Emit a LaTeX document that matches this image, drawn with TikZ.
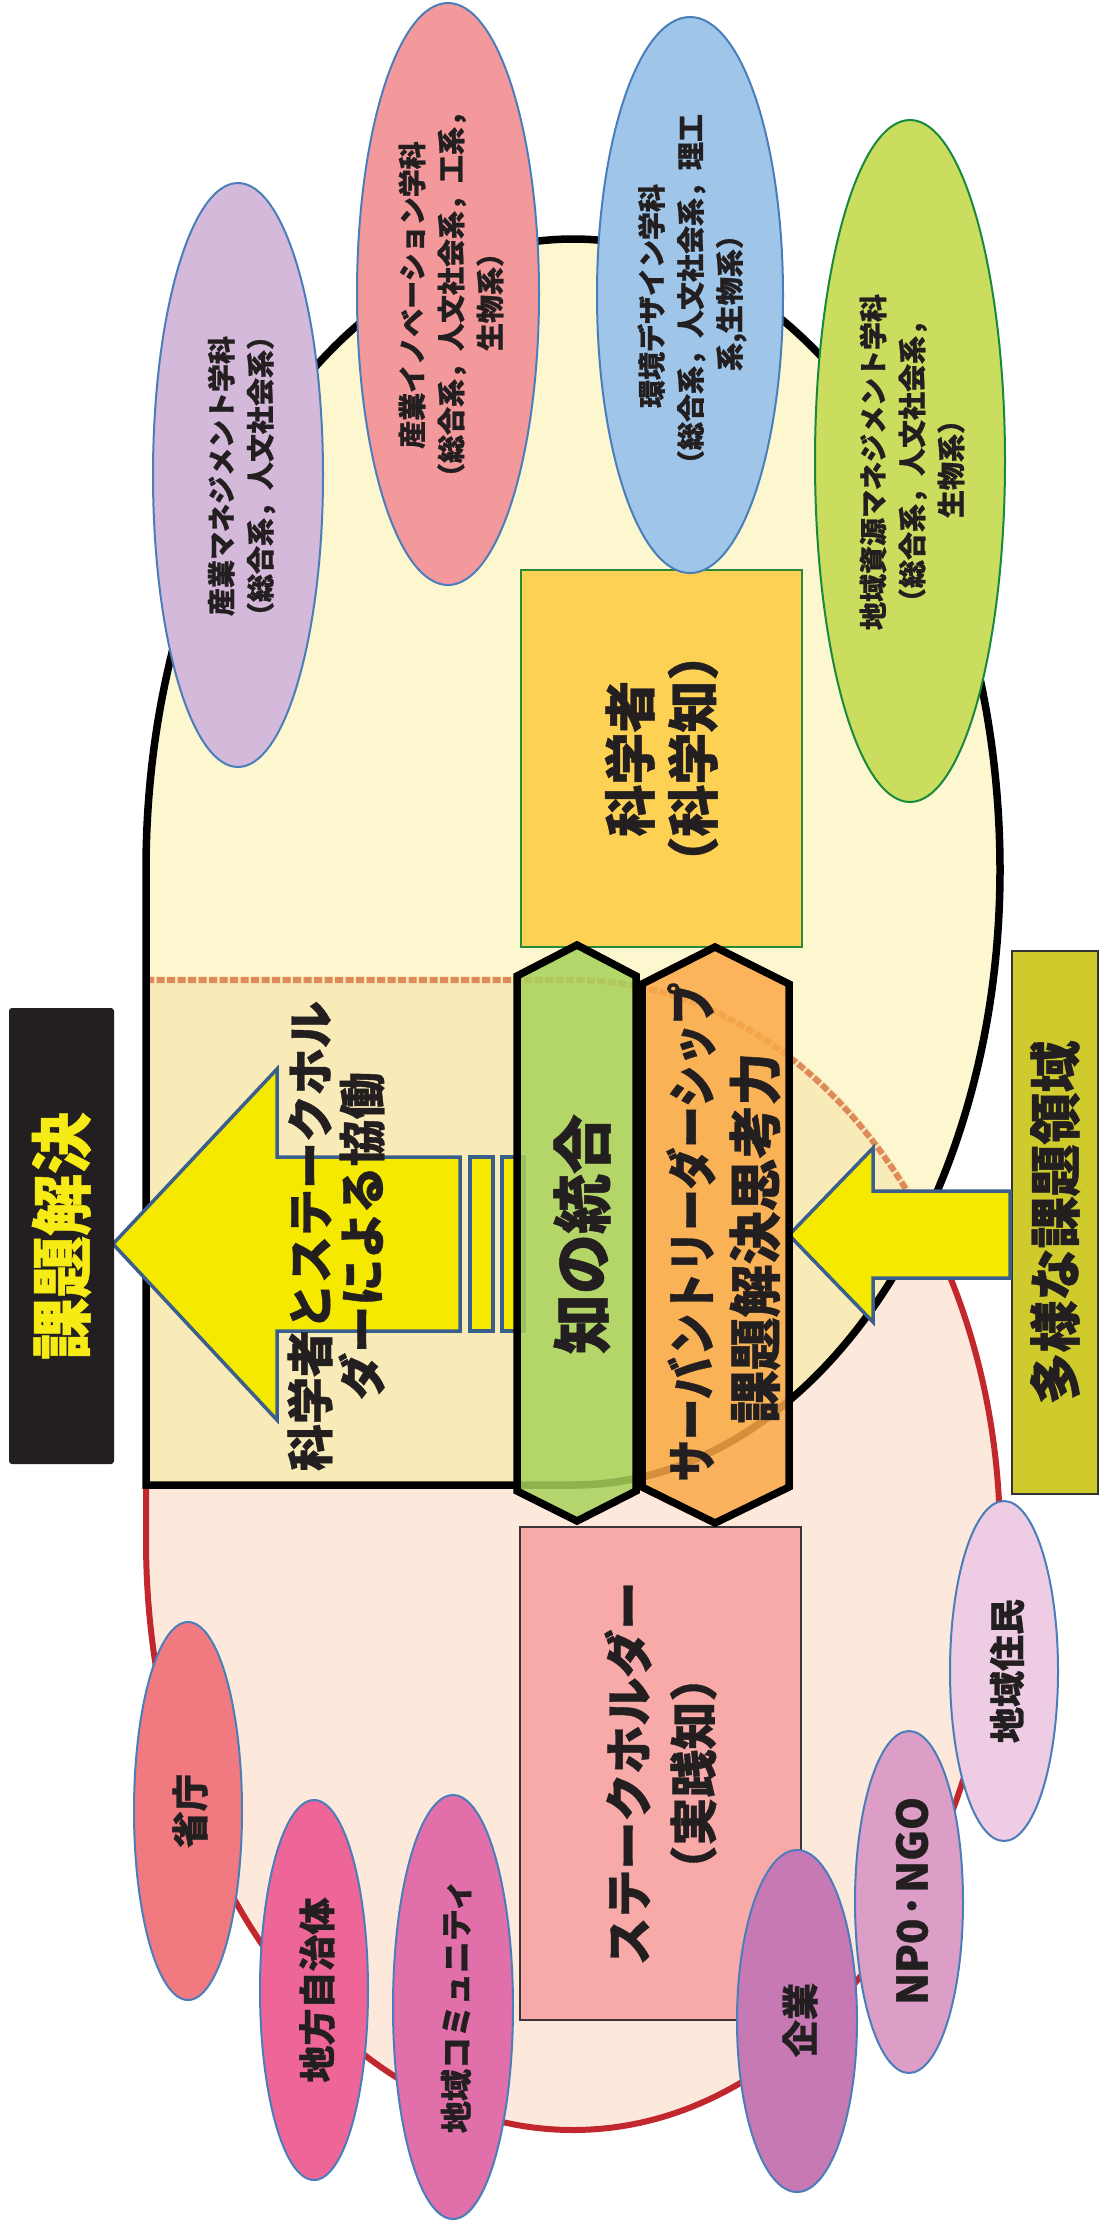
\documentclass[tikz,border=0pt]{standalone}
\usepackage{fontspec}
\setmainfont{Noto Sans CJK JP}
\newfontfamily\jpheavy{Noto Sans CJK JP}[FakeBold=0.8]
\usepackage{graphicx}
\usetikzlibrary{shapes.geometric}
\definecolor{txtc}{HTML}{231F20}
\definecolor{pinkbg}{HTML}{FDE9DB}
\definecolor{yellowbg}{HTML}{FCF7CE}
\definecolor{overlapbg}{HTML}{F9EBB8}
\definecolor{redline}{HTML}{C1272D}
\definecolor{dashc}{HTML}{DE8A5A}
\definecolor{arrowy}{HTML}{F5E900}
\definecolor{arrowbd}{HTML}{3B5F8C}
\definecolor{hexg}{HTML}{A8D25A}
\definecolor{hexo}{HTML}{FBA947}
\definecolor{scibox}{HTML}{FDD254}
\definecolor{scibd}{HTML}{2B8A3A}
\definecolor{stkbox}{HTML}{F7AAA8}
\definecolor{stkbd}{HTML}{3A3536}
\definecolor{blackbox}{HTML}{231F20}
\definecolor{kaiketsu}{HTML}{F6EB14}
\definecolor{issuebox}{HTML}{CFCB2C}
\definecolor{issuebd}{HTML}{333333}
\definecolor{ellbd}{HTML}{4A7EBB}
\definecolor{greenbd}{HTML}{18893E}
\definecolor{lav}{HTML}{D4B9DA}
\definecolor{salmon}{HTML}{F4999B}
\definecolor{skyb}{HTML}{9FC6E8}
\definecolor{limeg}{HTML}{CBDD5E}
\definecolor{shocho}{HTML}{F17A80}
\definecolor{jichitai}{HTML}{EE6597}
\definecolor{community}{HTML}{E06FAA}
\definecolor{kigyo}{HTML}{C679B3}
\definecolor{npo}{HTML}{DC9DC7}
\definecolor{jumin}{HTML}{EECCE3}
\newcommand\jf[2]{\fontsize{#1}{#2}\selectfont\jpheavy\bfseries}
\begin{document}
\begin{tikzpicture}[x=1pt,y=-1pt,
  jt/.style={rotate=90, align=center, inner sep=0pt, text=txtc},
  ell/.style={ellipse, draw=ellbd, line width=2pt, inner sep=0pt},
  bigarrow/.style={fill=arrowy, draw=arrowbd, line width=3.5pt, line join=miter},
  hexa/.style={draw=black, line width=7.5pt, fill opacity=0.85},
  boxr/.style={rotate=90, align=center, inner sep=0pt, text=txtc}]
\useasboundingbox (0,0) rectangle (1099,2224);
\fill[white] (0,0) rectangle (1099,2224);
\def\yellowpath{(146,1485) -- (146,870) arc[start angle=180,end angle=360,x radius=427,y radius=631] arc[start angle=0,end angle=90,x radius=427,y radius=615] -- cycle}
\def\pinkpath{(146,980) -- (573,980) arc[start angle=270,end angle=360,x radius=427,y radius=560] arc[start angle=0,end angle=180,x radius=427,y radius=590] -- cycle}
% regions
\fill[pinkbg] \pinkpath;
\fill[yellowbg] \yellowpath;
\begin{scope}
\clip \yellowpath;
\fill[overlapbg] \pinkpath;
\end{scope}
\draw[redline, line width=6pt] \pinkpath;
\begin{scope}
\clip \yellowpath;
\draw[overlapbg, line width=8pt] \pinkpath;
\draw[dashc, line width=6pt, dash pattern=on 8pt off 2.5pt] \pinkpath;
\end{scope}
\draw[black, line width=7.5pt] \yellowpath;
% left arrow
\draw[bigarrow] (113,1244) -- (277,1069) -- (277,1157) -- (460,1157) -- (460,1331) -- (277,1331) -- (277,1420) -- cycle;
\draw[bigarrow] (470,1157) rectangle (493,1331);
\draw[bigarrow] (502,1157) rectangle (524,1331);
\node[jt, font=\jf{47}{52}] (collab) at (336,1236) {科学者とステークホル\\ダーによる協働};
% boxes
\node[boxr, fill=scibox, draw=scibd, line width=1.5pt, minimum width=377pt, minimum height=281pt, font=\jf{52}{63}] (sci) at (661.5,758.5) {科学者\\（科学知）};
\node[boxr, fill=stkbox, draw=stkbd, line width=1.5pt, minimum width=493pt, minimum height=281pt, font=\jf{48}{65}] (stk) at (660.5,1773.5) {ステークホルダー\\（実践知）};
\node[boxr, fill=blackbox, rounded corners=3pt, minimum width=456pt, minimum height=105pt, text=kaiketsu, font=\jf{62}{70}] (solve) at (61.5,1236) {課題解決};
\node[boxr, fill=issuebox, draw=issuebd, line width=1.5pt, minimum width=543pt, minimum height=86pt, font=\jf{52}{60}] (issues) at (1055,1222.5) {多様な課題領域};
% right arrow
\draw[bigarrow] (789,1235) -- (873,1148) -- (873,1191) -- (1010,1191) -- (1010,1278) -- (873,1278) -- (873,1322) -- cycle;
% hexagons
\filldraw[hexa, fill=hexg] (577,945) -- (636,976) -- (636,1491) -- (577,1521) -- (517,1491) -- (517,976) -- cycle;
\filldraw[hexa, fill=hexo] (715,947) -- (789,984) -- (789,1487) -- (715,1523) -- (642,1487) -- (642,984) -- cycle;
\node[jt, font=\jf{60}{70}] (chi) at (582,1234) {知の統合};
\node[jt, font=\jf{50}{60}] (servant) at (691,1232) {\scalebox{0.83}[1]{サーバントリーダーシップ}};
\node[jt, font=\jf{53}{60}] (think) at (755,1238) {課題解決思考力};
% faculty ellipses
\node[ell, fill=lav, minimum width=170pt, minimum height=584pt] (fac1) at (238,475) {};
\node[jt, font=\jf{28}{39}] (fac1t) at (241.5,476) {産業マネジメント学科\\（総合系，人文社会系）};
\node[ell, fill=salmon, minimum width=182pt, minimum height=582pt] (fac2) at (448,294) {};
\node[jt, font=\jf{28}{39}] (fac2t) at (451,295) {産業イノベーション学科\\（総合系，人文社会系，工系，\\生物系）};
\node[ell, fill=skyb, minimum width=186pt, minimum height=556pt] (fac3) at (690,295) {};
\node[jt, font=\jf{28}{39}] (fac3t) at (692,296) {環境デザイン学科\\（総合系，人文社会系，理工\\系,生物系）};
\node[ell, draw=greenbd, fill=limeg, minimum width=190pt, minimum height=682pt] (fac4) at (910,461) {};
\node[jt, font=\jf{28}{39}] (fac4t) at (912,462) {地域資源マネジメント学科\\（総合系，人文社会系，\\生物系）};
% stakeholder ellipses
\node[ell, fill=shocho, minimum width=108pt, minimum height=378pt] (s1) at (188,1811) {};
\node[jt, font=\jf{37}{44}] (s1t) at (190,1811) {省庁};
\node[ell, fill=jichitai, minimum width=108pt, minimum height=380pt] (s2) at (314,1990) {};
\node[jt, font=\jf{37}{44}] (s2t) at (317,1990) {地方自治体};
\node[ell, fill=community, minimum width=120pt, minimum height=424pt] (s3) at (453,2007) {};
\node[jt, font=\jf{32}{40}] (s3t) at (456,2006) {地域コミュニティ};
\node[ell, fill=jumin, minimum width=108pt, minimum height=340pt] (s6) at (1004,1671) {};
\node[jt, font=\jf{36}{44}] (s6t) at (1007,1671) {地域住民};
\node[ell, fill=npo, minimum width=108pt, minimum height=342pt] (s5) at (909,1902) {};
\node[jt, font=\jf{42}{48}] (s5t) at (912,1901) {NP0·NGO};
\node[ell, fill=kigyo, minimum width=120pt, minimum height=342pt] (s4) at (797,2021) {};
\node[jt, font=\jf{37}{44}] (s4t) at (800,2020) {企業};
\end{tikzpicture}
\end{document}
